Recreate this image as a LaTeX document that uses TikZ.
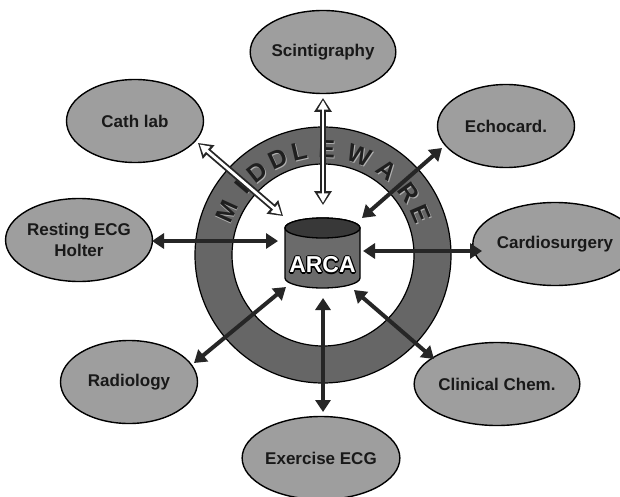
\documentclass[tikz,border=0pt]{standalone}
\usepackage{fontspec}
\setmainfont{Liberation Sans}
\usetikzlibrary{shapes.geometric,arrows.meta,calc}
\tikzset{
  dept/.style={ellipse, draw=black, line width=1.4pt, fill=black!38,
    minimum width=137pt, minimum height=83pt, inner sep=0pt,
    font=\fontsize{17}{21}\selectfont\bfseries, text=black!90, align=center},
  biarrow/.style={line width=4pt, draw=black!85,
    {Triangle[length=12pt,width=15pt]}-{Triangle[length=12pt,width=15pt]}},
  hollowout/.style={line width=6.5pt, draw=black!85,
    {Triangle[length=14pt,width=17pt]}-{Triangle[length=14pt,width=17pt]}},
  hollowin/.style={line width=2.8pt, draw=white, shorten >=2.2pt, shorten <=2.2pt,
    {Triangle[length=9.5pt,width=10pt]}-{Triangle[length=9.5pt,width=10pt]}},
  mwletter/.style={font=\fontsize{25}{25}\selectfont\bfseries, inner sep=0pt},
  arcafont/.style={font=\fontsize{23}{23}\selectfont\bfseries},
}
\begin{document}
\begin{tikzpicture}[x=1pt,y=1pt]
\useasboundingbox (0,0) rectangle (620,496);
\fill[white] (0,0) rectangle (620,496);

% ring
\coordinate (rc) at (323,241);
\fill[black!60, even odd rule, draw=black, line width=1.2pt]
  (rc) circle[radius=128] (rc) circle[radius=91];

% MIDDLEWARE letters (embossed)
\foreach \ch/\ang in {M/155.6, I/140, D/128.5, D/115, L/103, E/88, W/70, A/53, R/36, E/23}{
  \node[mwletter, text=black!30, rotate=\ang-90] at ($(rc)+(\ang:106)+(0.9,-0.9)$) {\ch};
  \node[mwletter, text=black!88, rotate=\ang-90] at ($(rc)+(\ang:106)$) {\ch};
}

% ARCA cylinder
\filldraw[fill=black!58, draw=black, line width=1.3pt]
  (285,268) -- (285,218) arc[start angle=180, end angle=360, x radius=37.5, y radius=10]
  -- (360,268) arc[start angle=0, end angle=180, x radius=37.5, y radius=10] -- cycle;
\filldraw[fill=black!78, draw=black, line width=1.3pt] (322.5,268) ellipse[x radius=37.5, y radius=10];
\foreach \dx/\dy in {1.2/0, -1.2/0, 0/1.2, 0/-1.2, 0.9/0.9, -0.9/-0.9, 0.9/-0.9, -0.9/0.9}{
  \node[arcafont, text=black] at (322.5+\dx,231+\dy) {ARCA};
}
\node[arcafont, text=white] (arca) at (322.5,231) {ARCA};

% department nodes
\node[dept] (scint)  at (323,444) {Scintigraphy};
\node[dept] (cath)   at (135,375) {Cath lab};
\node[dept] (echo)   at (506,370) {Echocard.};
\node[dept] (rest)   at (79,256)  {Resting ECG\\Holter};
\node[dept] (cardio) at (555,252) {Cardiosurgery};
\node[dept] (radio)  at (129,114) {Radiology};
\node[dept] (exer)   at (321,38)  {Exercise ECG};
\node[dept] (chem)   at (497,112) {Clinical Chem.};

% connector end points
\coordinate (scint-o)  at (323,398);  \coordinate (scint-i)  at (323,291);
\coordinate (cath-o)   at (198,353);  \coordinate (cath-i)   at (283,280);
\coordinate (echo-o)   at (442,348);  \coordinate (echo-i)   at (362,278);
\coordinate (rest-o)   at (152,255);  \coordinate (rest-i)   at (278,255);
\coordinate (cardio-o) at (482,245);  \coordinate (cardio-i) at (363,245);
\coordinate (radio-o)  at (194,133);  \coordinate (radio-i)  at (286,209);
\coordinate (exer-o)   at (323,84);   \coordinate (exer-i)   at (323,198);
\coordinate (chem-o)   at (434,137);  \coordinate (chem-i)   at (354,206);

% hollow arrows
\draw[hollowout] (scint-o) -- (scint-i);
\draw[hollowin]  (scint-o) -- (scint-i);
\draw[hollowout] (cath-o) -- (cath-i);
\draw[hollowin]  (cath-o) -- (cath-i);

% solid arrows
\draw[biarrow] (echo-o) -- (echo-i);
\draw[biarrow] (rest-o) -- (rest-i);
\draw[biarrow] (cardio-o) -- (cardio-i);
\draw[biarrow] (radio-o) -- (radio-i);
\draw[biarrow] (exer-o) -- (exer-i);
\draw[biarrow] (chem-o) -- (chem-i);
\end{tikzpicture}
\end{document}
